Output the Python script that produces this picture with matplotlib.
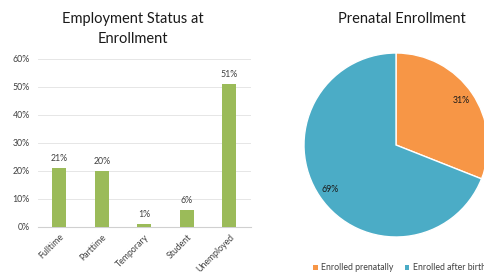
import matplotlib.pyplot as plt
from matplotlib.patches import Patch
from matplotlib.ticker import PercentFormatter

plt.rcParams["font.family"] = ["Lato", "DejaVu Sans"]

categories = ["Fulltime", "Parttime", "Temporary", "Student", "Unemployed"]
employment_share = [0.21, 0.20, 0.01, 0.06, 0.51]

pie_labels = ["Enrolled prenatally", "Enrolled after birth"]
pie_share = [31, 69]

BAR_COLOR = "#9BBB59"
PIE_COLORS = ["#F79646", "#4BACC6"]
TEXT = "#404040"
W, H = 484, 273
SMALL = 6.3

fig = plt.figure(figsize=(W / 100, H / 100), dpi=100)

# bar chart, placed in pixel coords
ax = fig.add_axes([38 / W, 46 / H, 212.5 / W, 168 / H])
x = range(len(categories))
ax.bar(x, employment_share, width=0.33, color=BAR_COLOR, zorder=3)
for xi, v in zip(x, employment_share):
    ax.text(xi, v + 0.018, f"{v:.0%}", ha="center", va="bottom", fontsize=SMALL, color=TEXT)
ax.set_xlim(-0.5, len(categories) - 0.5)
ax.set_ylim(0, 0.6)
ax.set_yticks([0, 0.1, 0.2, 0.3, 0.4, 0.5, 0.6])
ax.yaxis.set_major_formatter(PercentFormatter(1.0, decimals=0))
ax.set_xticks(list(x))
ax.set_xticklabels(categories, rotation=45, ha="right", rotation_mode="anchor")
ax.tick_params(axis="both", length=0, labelsize=SMALL, colors=TEXT)
ax.tick_params(axis="x", pad=4)
ax.tick_params(axis="y", pad=6)
ax.grid(axis="y", color="#E6E6E6", linewidth=0.7, zorder=0)
for side in ["top", "right", "left"]:
    ax.spines[side].set_visible(False)
ax.spines["bottom"].set_color("#D0D0D0")
ax.spines["bottom"].set_linewidth(0.8)
fig.text(133 / W, 1 - 19 / H, "Employment Status at", ha="center", va="center", fontsize=10.5, color="#1A1A1A")
fig.text(133 / W, 1 - 39 / H, "Enrollment", ha="center", va="center", fontsize=10.5, color="#1A1A1A")

# pie chart
pax = fig.add_axes([(396 - 92) / W, (H - 145 - 92) / H, 184 / W, 184 / H])
pax.pie(pie_share, colors=PIE_COLORS, startangle=90, counterclock=False,
        autopct="%d%%", pctdistance=0.86,
        wedgeprops={"edgecolor": "white", "linewidth": 1.0},
        textprops={"fontsize": SMALL, "color": "#1A1A1A"})
pax.set_xlim(-1, 1)
pax.set_ylim(-1, 1)
fig.text(402 / W, 1 - 19 / H, "Prenatal Enrollment", ha="center", va="center", fontsize=10.5, color="#1A1A1A")

handles = [Patch(facecolor=c, label=l) for c, l in zip(PIE_COLORS, pie_labels)]
fig.legend(handles=handles, loc="center left", bbox_to_anchor=(309 / W, 1 - 268 / H), ncol=2,
           frameon=False, fontsize=SMALL, handlelength=0.5, handleheight=0.5,
           handletextpad=0.4, columnspacing=1.3, borderpad=0, labelcolor=TEXT)

fig.savefig("out.png", dpi=100)
